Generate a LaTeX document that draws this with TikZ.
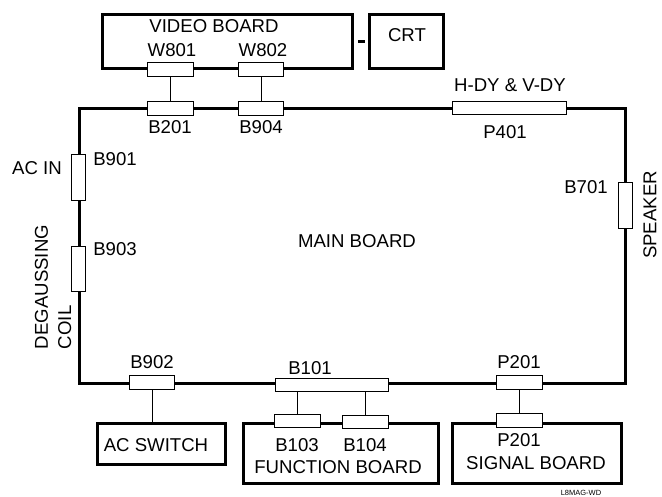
\documentclass[tikz,border=0pt]{standalone}
\usepackage{fontspec}
\setmainfont{Liberation Sans}
\usetikzlibrary{positioning, calc}
\tikzset{
  every picture/.style={line width=1pt},
  board/.style={draw, line width=3pt, inner sep=0pt, minimum width=#1},
  conn/.style={draw, fill=white, line width=1pt, inner sep=0pt},
  hconn/.style={conn, minimum width=#1, minimum height=13.5pt},
  hconn/.default=45.5pt,
  vconn/.style={conn, minimum width=14pt, minimum height=#1},
  vconn/.default=45.5pt,
  lbl/.style={font=\fontsize{18.6}{23.3}\selectfont, inner sep=0pt},
  link/.style={line width=1pt},
}
\begin{document}
\begin{tikzpicture}[x=1pt, y=-1pt]
  \useasboundingbox (0,0) rectangle (662,497);
  % ---- boards
  \node[board=546pt, minimum height=274pt] (main) at (352,246) {};
  \node[board=250pt, minimum height=54pt] (video) at (227,42) {};
  \node[board=74pt, minimum height=54pt] (crt) at (406,42) {};
  \node[board=128pt, minimum height=41pt] (acsw) at (161,443.5) {};
  \node[board=195pt, minimum height=60pt] (func) at (340.5,453) {};
  \node[board=169pt, minimum height=60pt] (signal) at (536.5,453) {};
  \draw[line width=3pt] ([xshift=4.5pt]video.east) -- ([xshift=-3pt]crt.west);
  % ---- connectors on the boards
  \node[hconn] (w801) at (170.5,69.5) {};
  \node[hconn] (w802) at (261,69.5) {};
  \node[hconn] (b201) at (170.5,108.5) {};
  \node[hconn] (b904) at (261,108.5) {};
  \node[hconn=114pt] (p401) at (509,108) {};
  \node[vconn] (b701) at (625,205.5) {};
  \node[vconn=46pt] (b901) at (78,178) {};
  \node[vconn] (b903) at (78,269) {};
  \node[hconn] (b902) at (152,382.5) {};
  \node[hconn=113pt, minimum height=13.3pt] (b101) at (332,385) {};
  \node[hconn] (b103) at (297.5,421) {};
  \node[hconn] (b104) at (365.5,422) {};
  \node[hconn] (p201a) at (519.5,382.5) {};
  \node[hconn] (p201b) at (519.5,420.7) {};
  % ---- links
  \draw[link] (w801) -- (b201);
  \draw[link] (w802) -- (b904);
  \draw[link] (b902) -- (b902 |- acsw.north);
  \draw[link] (b103 |- b101.south) -- (b103);
  \draw[link] (b104 |- b101.south) -- (b104);
  \draw[link] (p201a) -- (p201b);
  % ---- labels
  \node[lbl] (videotxt) at (214,26) {VIDEO BOARD};
  \node[lbl] (crttxt) at (407,35) {CRT};
  \node[lbl] (w801txt) at (172,50) {W801};
  \node[lbl] (w802txt) at (263,50) {W802};
  \node[lbl] (b201txt) at (170,127) {B201};
  \node[lbl] (b904txt) at (261,127) {B904};
  \node[lbl] (dytxt) at (510,85) {H-DY \& V-DY};
  \node[lbl] (p401txt) at (505,132) {P401};
  \node[lbl] (b701txt) at (586,187) {B701};
  \node[lbl, rotate=90] (spktxt) at (650,215) {SPEAKER};
  \node[lbl] (b901txt) at (115,159) {B901};
  \node[lbl] (acintxt) at (37,168) {AC IN};
  \node[lbl] (b903txt) at (115,249) {B903};
  \node[lbl, rotate=90, align=left] (degtxt) at (53,287) {DEGAUSSING\\COIL};
  \node[lbl] (maintxt) at (357,241) {MAIN BOARD};
  \node[lbl] (b902txt) at (152,362) {B902};
  \node[lbl] (acswtxt) at (156,445) {AC SWITCH};
  \node[lbl] (b101txt) at (310,368) {B101};
  \node[lbl] (b103txt) at (297,445) {B103};
  \node[lbl] (b104txt) at (365,445) {B104};
  \node[lbl] (functxt) at (338,467) {FUNCTION BOARD};
  \node[lbl] (p201atxt) at (519,362) {P201};
  \node[lbl] (p201btxt) at (519,440) {P201};
  \node[lbl] (signaltxt) at (536,463) {SIGNAL BOARD};
  \node[font=\fontsize{7.5}{8}\selectfont, inner sep=0pt] (code) at (581,493) {L8MAG-WD};
\end{tikzpicture}
\end{document}
